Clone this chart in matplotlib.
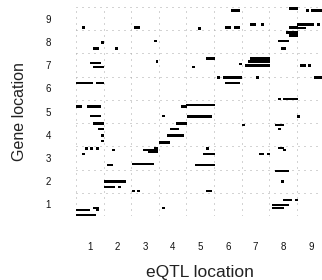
import numpy as np
import matplotlib
matplotlib.use("Agg")
import matplotlib.pyplot as plt

plt.rcParams['font.family'] = ['Liberation Sans', 'DejaVu Sans']

# chromosome numbers for both axes
chroms = [1, 2, 3, 4, 5, 6, 7, 8, 9]

# eQTL hits: start / end of the eQTL region (genome position) and the gene position
eqtl_start = [0.72, 2.60, 1.41, 3.33, 1.12, 1.91, 3.40, 1.01, 1.12, 0.50,
              1.22, 0.50, 0.90, 6.12, 4.92, 5.90, 6.22, 5.21, 4.70, 6.41,
              5.61, 5.83, 5.90, 4.30, 4.49, 8.22, 8.83, 9.01, 6.80, 7.20,
              8.22, 8.51, 9.23, 8.54, 8.11, 8.22, 7.82, 7.93, 6.80, 6.73,
              6.62, 8.62, 8.91, 7.02, 9.12, 7.82, 8.00, 1.01, 1.12, 1.30,
              1.41, 1.41, 0.83, 1.01, 1.22, 1.80, 0.72, 2.93, 3.11, 3.33,
              1.62, 2.53, 1.51, 1.51, 2.02, 2.53, 2.71, 1.12, 0.50, 1.22,
              0.50, 3.62, 4.52, 4.12, 3.91, 3.80, 3.51, 5.21, 5.10, 4.81,
              5.21, 3.62, 8.51, 6.51, 7.71, 7.82, 7.82, 8.00, 7.13, 7.42,
              7.71, 7.93, 8.00, 8.43, 7.60, 7.60]
eqtl_end = [0.83, 2.82, 1.51, 3.43, 1.33, 2.02, 3.47, 1.41, 1.51, 1.12,
            1.51, 0.72, 1.41, 6.44, 5.03, 6.12, 6.44, 5.54, 4.81, 6.51,
            5.72, 6.51, 6.44, 4.52, 5.54, 8.54, 8.94, 9.41, 7.02, 7.31,
            8.54, 9.12, 9.34, 8.83, 8.54, 8.54, 8.22, 8.11, 7.53, 7.53,
            7.53, 8.83, 9.01, 7.13, 9.41, 7.93, 8.54, 1.41, 1.51, 1.51,
            1.51, 1.51, 0.93, 1.12, 1.33, 1.91, 0.83, 3.47, 3.47, 3.47,
            1.84, 3.33, 2.31, 1.91, 2.13, 2.64, 2.82, 1.33, 1.01, 1.33,
            1.22, 3.72, 5.43, 4.52, 4.23, 4.41, 3.91, 5.32, 5.54, 5.54,
            5.43, 3.72, 8.62, 6.62, 8.04, 7.93, 8.04, 8.11, 7.31, 7.53,
            8.22, 8.04, 8.33, 8.54, 8.22, 8.04]
gene_pos = [8.63, 8.63, 7.96, 8.04, 7.70, 7.70, 7.14, 7.09, 6.92, 6.23,
            6.23, 5.20, 5.20, 9.34, 8.56, 8.63, 8.63, 7.27, 6.92, 7.05,
            6.45, 6.45, 6.23, 5.20, 5.28, 9.42, 9.34, 9.34, 8.73, 8.73,
            8.63, 8.73, 8.73, 8.60, 8.39, 8.26, 8.04, 7.70, 7.27, 7.14,
            6.97, 6.97, 6.97, 6.45, 6.45, 5.54, 5.54, 4.81, 4.47, 4.25,
            3.95, 3.73, 3.39, 3.39, 3.39, 3.34, 3.17, 3.34, 3.26, 3.43,
            2.70, 2.74, 1.97, 1.75, 1.75, 1.58, 1.58, 0.84, 0.76, 0.76,
            0.54, 4.81, 4.77, 4.47, 4.25, 3.95, 3.65, 3.39, 3.17, 2.70,
            1.58, 0.84, 4.77, 4.42, 4.42, 4.25, 3.43, 3.34, 3.17, 3.17,
            2.44, 1.97, 1.19, 1.19, 0.97, 0.84]

eqtl_start = np.array(eqtl_start)
eqtl_end = np.array(eqtl_end)
gene_pos = np.array(gene_pos)

fig = plt.figure(figsize=(3.22, 2.80), dpi=100)
ax = fig.add_axes([76 / 322, 1 - 216 / 280, 248.6 / 322, 209 / 280])

ax.barh(gene_pos, eqtl_end - eqtl_start, left=eqtl_start, height=0.12,
        color='black', linewidth=0)

ax.set_xlim(0.5, 9.5)
ax.set_ylim(0.5, 9.5)

# chromosome boundaries as dotted grid
bounds = np.arange(0.5, 10, 1.0)
ax.set_xticks(bounds, minor=True)
ax.set_yticks(bounds, minor=True)
ax.grid(which='minor', color='#a8a8a8', linewidth=0.72, linestyle=(0, (1, 5)))
ax.grid(which='major', visible=False)
ax.set_axisbelow(True)

ax.set_xticks(chroms)
ax.set_yticks(chroms)
ax.tick_params(which='both', length=0)
ax.tick_params(axis='x', pad=19, labelsize=7, colors='#111111')
ax.tick_params(axis='y', pad=18, labelsize=7, colors='#111111')
for s in ax.spines.values():
    s.set_visible(False)

ax.set_xlabel('eQTL location', fontsize=12.5, color='#222222', labelpad=9)
ax.set_ylabel('Gene location', fontsize=11.5, color='#222222', labelpad=13)

fig.savefig('out.png', dpi=100)
